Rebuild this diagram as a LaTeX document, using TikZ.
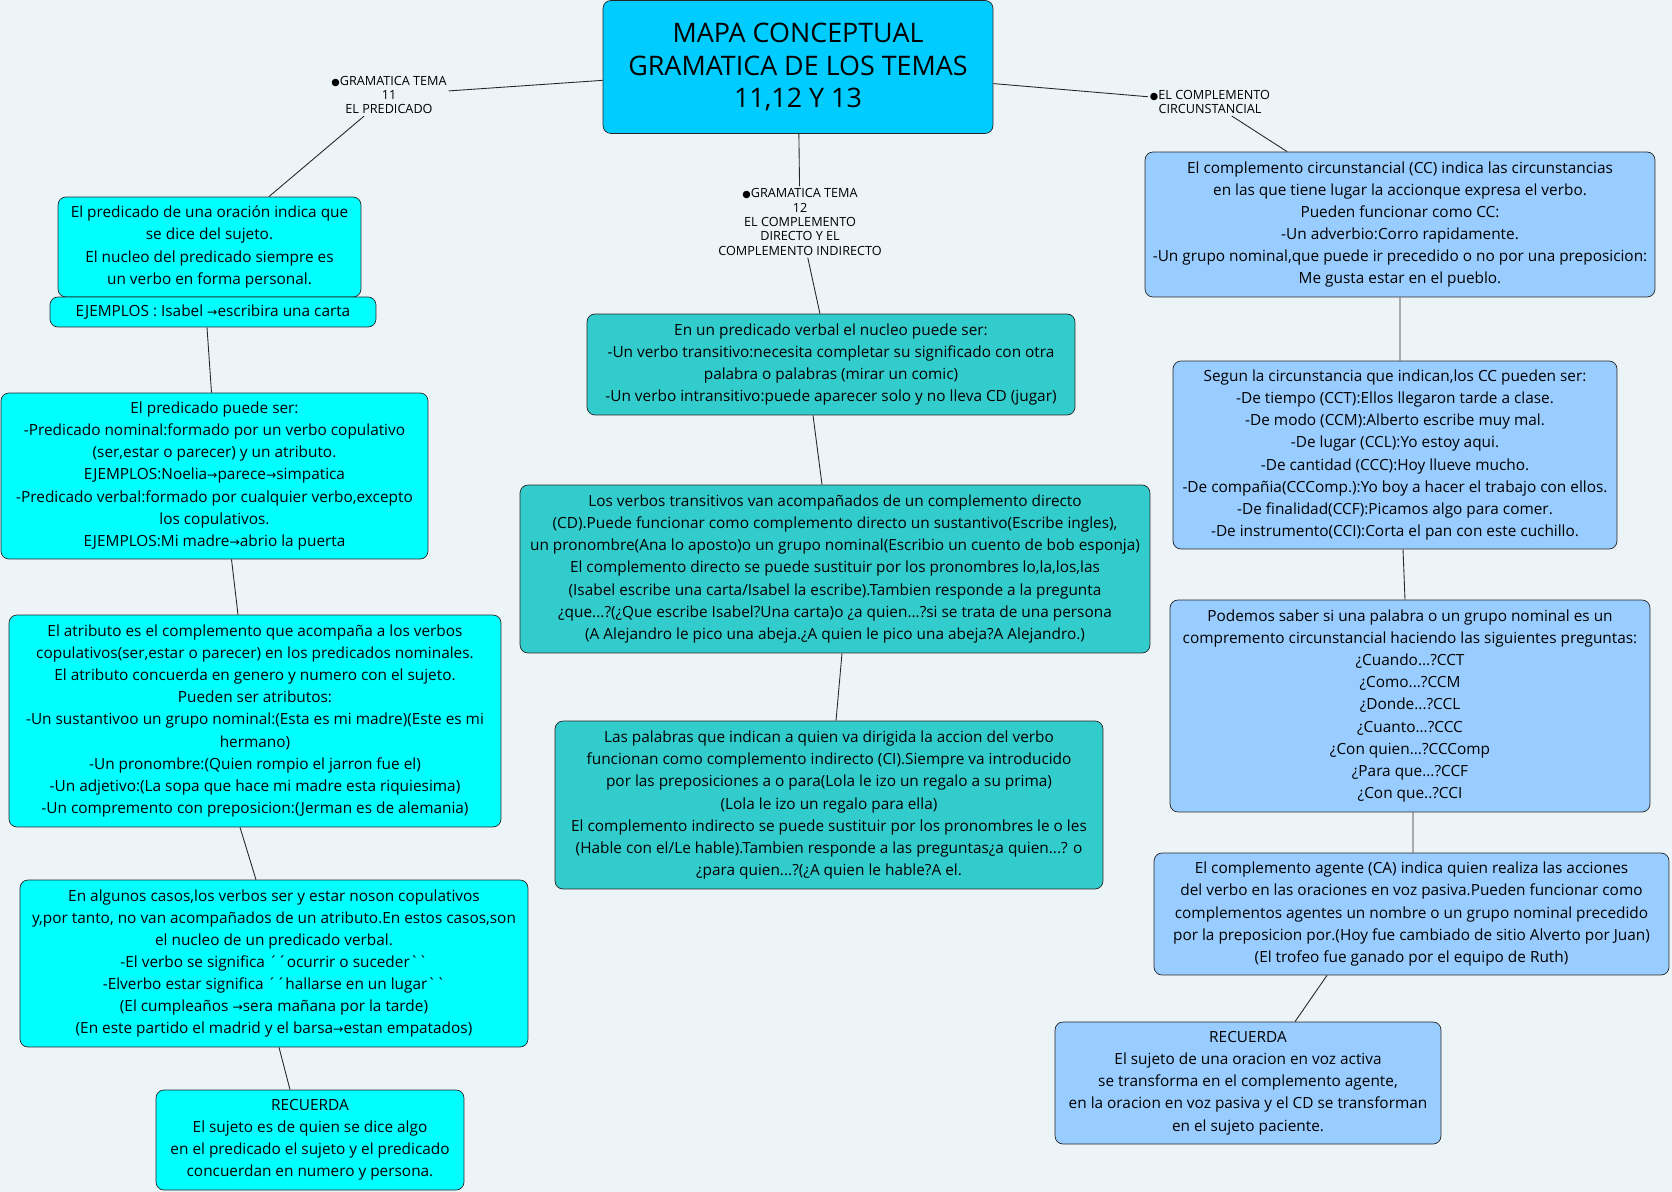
\documentclass[tikz,border=0pt]{standalone}
\usepackage{fontspec}
\setmainfont{Open Sans}[Ligatures=TeXOff]
\newfontfamily\symfont{DejaVu Sans}
\usetikzlibrary{positioning}
\definecolor{bgcol}{RGB}{237,244,247}
\definecolor{titlecol}{RGB}{0,204,255}
\definecolor{cyancol}{RGB}{0,255,255}
\definecolor{tealcol}{RGB}{51,204,204}
\definecolor{bluecol}{RGB}{153,204,255}
\newcommand{\ra}{{\symfont\fontsize{7}{7}\selectfont →}}
\newcommand{\bul}{{\symfont\fontsize{5.5}{5.5}\selectfont ●}}
\tikzset{
  concept/.style={draw=black!85, rounded corners=4.5pt, align=center, inner sep=1pt,
    font=\fontsize{8.75}{12.6}\selectfont},
  cyanbox/.style={concept, fill=cyancol},
  tealbox/.style={concept, fill=tealcol},
  bluebox/.style={concept, fill=bluecol},
  topic/.style={align=center, inner sep=1pt, font=\fontsize{7.2}{8.2}\selectfont},
  link/.style={draw=black!85, line width=0.5pt}
}

\begin{document}
\begin{tikzpicture}[x=0.02cm, y=-0.02cm]
        \fill[bgcol] (0,0) rectangle (1672,1192);
        \useasboundingbox (0,0) rectangle (1672,1192);

        % Nodes
        \node[concept, fill=titlecol, minimum width=7.8cm, minimum height=2.66cm,
              font=\fontsize{15.3}{18.4}\selectfont] (title) at (798,67)
              {MAPA CONCEPTUAL\\GRAMATICA DE LOS TEMAS\\11,12 Y 13};

        \node[topic] (t11) at (389,95) {\bul GRAMATICA TEMA\\11\\EL PREDICADO};
        \node[topic] (t12) at (800,222) {\bul GRAMATICA TEMA\\12\\EL COMPLEMENTO\\DIRECTO Y EL\\COMPLEMENTO INDIRECTO};
        \node[topic] (tcc) at (1210,102) {\bul EL COMPLEMENTO\\CIRCUNSTANCIAL};

        % left column
        \node[cyanbox, minimum width=6.06cm, minimum height=2.0cm] (pred) at (209.5,247)
              {El predicado de una oración indica que\\se dice del sujeto.\\El nucleo del predicado siempre es\\un verbo en forma personal.};
        \node[cyanbox, minimum width=6.52cm, minimum height=0.6cm] (ejem) at (213,312)
              {EJEMPLOS : Isabel \ra escribira una carta};
        \node[cyanbox, minimum width=8.54cm, minimum height=3.32cm] (tipos) at (214.5,476)
              {El predicado puede ser:\\-Predicado nominal:formado por un verbo copulativo\\(ser,estar o parecer) y un atributo.\\EJEMPLOS:Noelia\ra parece\ra simpatica\\-Predicado verbal:formado por cualquier verbo,excepto\\los copulativos.\\EJEMPLOS:Mi madre\ra abrio la puerta};
        \node[cyanbox, minimum width=9.84cm, minimum height=4.24cm] (atrib) at (255,721)
              {El atributo es el complemento que acompaña a los verbos\\copulativos(ser,estar o parecer) en los predicados nominales.\\El atributo concuerda en genero y numero con el sujeto.\\Pueden ser atributos:\\-Un sustantivoo un grupo nominal:(Esta es mi madre)(Este es mi\\hermano)\\-Un pronombre:(Quien rompio el jarron fue el)\\-Un adjetivo:(La sopa que hace mi madre esta riquiesima)\\-Un compremento con preposicion:(Jerman es de alemania)};
        \node[cyanbox, minimum width=10.16cm, minimum height=3.34cm] (casos) at (274,963.5)
              {En algunos casos,los verbos ser y estar noson copulativos\\y,por tanto, no van acompañados de un atributo.En estos casos,son\\el nucleo de un predicado verbal.\\-El verbo se significa ´´ocurrir o suceder``\\-Elverbo estar significa ´´hallarse en un lugar``\\(El cumpleaños \ra sera mañana por la tarde)\\(En este partido el madrid y el barsa\ra estan empatados)};
        \node[cyanbox, minimum width=6.16cm, minimum height=2.0cm] (recl) at (310,1140)
              {RECUERDA\\El sujeto es de quien se dice algo\\en el predicado el sujeto y el predicado\\concuerdan en numero y persona.};

        % middle column
        \node[tealbox, minimum width=9.76cm, minimum height=2.02cm] (nucleo) at (831,364.5)
              {En un predicado verbal el nucleo puede ser:\\-Un verbo transitivo:necesita completar su significado con otra\\palabra o palabras (mirar un comic)\\-Un verbo intransitivo:puede aparecer solo y no lleva CD (jugar)};
        \node[tealbox, minimum width=12.6cm, minimum height=3.36cm] (cd) at (835,569)
              {Los verbos transitivos van acompañados de un complemento directo\\(CD).Puede funcionar como complemento directo un sustantivo(Escribe ingles),\\un pronombre(Ana lo aposto)o un grupo nominal(Escribio un cuento de bob esponja)\\El complemento directo se puede sustituir por los pronombres lo,la,los,las\\(Isabel escribe una carta/Isabel la escribe).Tambien responde a la pregunta\\¿que...?(¿Que escribe Isabel?Una carta)o ¿a quien...?si se trata de una persona\\(A Alejandro le pico una abeja.¿A quien le pico una abeja?A Alejandro.)};
        \node[tealbox, minimum width=10.96cm, minimum height=3.36cm] (ci) at (829,805)
              {Las palabras que indican a quien va dirigida la accion del verbo\\funcionan como complemento indirecto (CI).Siempre va introducido\\por las preposiciones a o para(Lola le izo un regalo a su prima)\\(Lola le izo un regalo para ella)\\El complemento indirecto se puede sustituir por los pronombres le o les\\(Hable con el/Le hable).Tambien responde a las preguntas¿a quien...? o\\¿para quien...?(¿A quien le hable?A el.};

        % right column
        \node[bluebox, minimum width=10.2cm, minimum height=2.9cm] (cc) at (1400,224.5)
              {El complemento circunstancial (CC) indica las circunstancias\\en las que tiene lugar la accionque expresa el verbo.\\Pueden funcionar como CC:\\-Un adverbio:Corro rapidamente.\\-Un grupo nominal,que puede ir precedido o no por una preposicion:\\Me gusta estar en el pueblo.};
        \node[bluebox, minimum width=8.88cm, minimum height=3.76cm] (clases) at (1395,455)
              {Segun la circunstancia que indican,los CC pueden ser:\\-De tiempo (CCT):Ellos llegaron tarde a clase.\\-De modo (CCM):Alberto escribe muy mal.\\-De lugar (CCL):Yo estoy aqui.\\-De cantidad (CCC):Hoy llueve mucho.\\-De compañia(CCComp.):Yo boy a hacer el trabajo con ellos.\\-De finalidad(CCF):Picamos algo para comer.\\-De instrumento(CCI):Corta el pan con este cuchillo.};
        \node[bluebox, minimum width=9.6cm, minimum height=4.24cm] (preg) at (1410,706)
              {Podemos saber si una palabra o un grupo nominal es un\\compremento circunstancial haciendo las siguientes preguntas:\\¿Cuando...?CCT\\¿Como...?CCM\\¿Donde...?CCL\\¿Cuanto...?CCC\\¿Con quien...?CCComp\\¿Para que...?CCF\\¿Con que..?CCI};
        \node[bluebox, minimum width=10.3cm, minimum height=2.44cm] (ca) at (1411.5,914)
              {El complemento agente (CA) indica quien realiza las acciones\\del verbo en las oraciones en voz pasiva.Pueden funcionar como\\complementos agentes un nombre o un grupo nominal precedido\\por la preposicion por.(Hoy fue cambiado de sitio Alverto por Juan)\\(El trofeo fue ganado por el equipo de Ruth)};
        \node[bluebox, minimum width=7.72cm, minimum height=2.44cm] (recr) at (1248,1083)
              {RECUERDA\\El sujeto de una oracion en voz activa\\se transforma en el complemento agente,\\en la oracion en voz pasiva y el CD se transforman\\en el sujeto paciente.};

        % Edges
        \draw[link] (title) -- (t11);
        \draw[link] (t11) -- (pred);
        \draw[link] (title) -- (t12);
        \draw[link] (t12) -- (nucleo);
        \draw[link] (title) -- (tcc);
        \draw[link] (tcc) -- (cc);
        \draw[link] ([xshift=-0.12cm]ejem.south) -- ([xshift=-0.06cm]tipos.north);
        \draw[link] ([xshift=0.34cm]tipos.south) -- ([xshift=-0.34cm]atrib.north);
        \draw[link] ([xshift=-0.30cm]atrib.south) -- ([xshift=-0.36cm]casos.north);
        \draw[link] ([xshift=0.10cm]casos.south) -- ([xshift=-0.40cm]recl.north);
        \draw[link] ([xshift=-0.36cm]nucleo.south) -- ([xshift=-0.26cm]cd.north);
        \draw[link] ([xshift=0.14cm]cd.south) -- ([xshift=0.14cm]ci.north);
        \draw[link] (cc.south) -- ([xshift=0.10cm]clases.north);
        \draw[link] ([xshift=0.16cm]clases.south) -- ([xshift=-0.10cm]preg.north);
        \draw[link] ([xshift=0.06cm]preg.south) -- ([xshift=0.03cm]ca.north);
        \draw[link] ([xshift=-1.69cm]ca.south) -- ([xshift=0.94cm]recr.north);
    \end{tikzpicture}
\end{document}
